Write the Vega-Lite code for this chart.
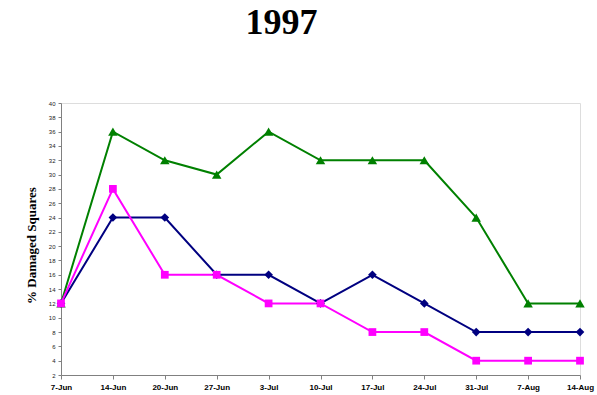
{
  "$schema": "https://vega.github.io/schema/vega-lite/v6.json",
  "autosize": "none",
  "width": 519,
  "height": 272,
  "padding": {"left": 61, "top": 103, "right": 17, "bottom": 20},
  "background": "white",
  "title": {
    "text": "1997",
    "font": "Liberation Serif",
    "fontSize": 36,
    "fontWeight": "bold",
    "color": "black",
    "anchor": "middle",
    "dx": -39,
    "offset": 58
  },
  "data": {
    "values": [
      {"date": "7-Jun", "series": "A", "pct": 12},
      {"date": "14-Jun", "series": "A", "pct": 36},
      {"date": "20-Jun", "series": "A", "pct": 32},
      {"date": "27-Jun", "series": "A", "pct": 30},
      {"date": "3-Jul", "series": "A", "pct": 36},
      {"date": "10-Jul", "series": "A", "pct": 32},
      {"date": "17-Jul", "series": "A", "pct": 32},
      {"date": "24-Jul", "series": "A", "pct": 32},
      {"date": "31-Jul", "series": "A", "pct": 24},
      {"date": "7-Aug", "series": "A", "pct": 12},
      {"date": "14-Aug", "series": "A", "pct": 12},
      {"date": "7-Jun", "series": "B", "pct": 12},
      {"date": "14-Jun", "series": "B", "pct": 24},
      {"date": "20-Jun", "series": "B", "pct": 24},
      {"date": "27-Jun", "series": "B", "pct": 16},
      {"date": "3-Jul", "series": "B", "pct": 16},
      {"date": "10-Jul", "series": "B", "pct": 12},
      {"date": "17-Jul", "series": "B", "pct": 16},
      {"date": "24-Jul", "series": "B", "pct": 12},
      {"date": "31-Jul", "series": "B", "pct": 8},
      {"date": "7-Aug", "series": "B", "pct": 8},
      {"date": "14-Aug", "series": "B", "pct": 8},
      {"date": "7-Jun", "series": "C", "pct": 12},
      {"date": "14-Jun", "series": "C", "pct": 28},
      {"date": "20-Jun", "series": "C", "pct": 16},
      {"date": "27-Jun", "series": "C", "pct": 16},
      {"date": "3-Jul", "series": "C", "pct": 12},
      {"date": "10-Jul", "series": "C", "pct": 12},
      {"date": "17-Jul", "series": "C", "pct": 8},
      {"date": "24-Jul", "series": "C", "pct": 8},
      {"date": "31-Jul", "series": "C", "pct": 4},
      {"date": "7-Aug", "series": "C", "pct": 4},
      {"date": "14-Aug", "series": "C", "pct": 4}
    ]
  },
  "encoding": {
    "x": {
      "field": "date",
      "type": "ordinal",
      "sort": null,
      "scale": {"type": "point", "padding": 0},
      "axis": {
        "title": null,
        "labelAngle": 0,
        "labelFont": "Liberation Sans",
        "labelFontSize": 8,
        "labelFontWeight": "bold",
        "labelColor": "black",
        "labelPadding": 4,
        "domainColor": "#808080",
        "tickColor": "#808080",
        "tickSize": 4,
        "grid": false
      }
    },
    "y": {
      "field": "pct",
      "type": "quantitative",
      "scale": {"domain": [2, 40], "nice": false, "zero": false},
      "axis": {
        "title": "% Damaged Squares",
        "titleFont": "Liberation Serif",
        "titleFontSize": 13,
        "titleFontWeight": "bold",
        "titleColor": "black",
        "titlePadding": 10,
        "titleY": 142,
        "values": [2, 4, 6, 8, 10, 12, 14, 16, 18, 20, 22, 24, 26, 28, 30, 32, 34, 36, 38, 40],
        "labelFont": "Liberation Sans",
        "labelFontSize": 6,
        "labelColor": "#222222",
        "labelPadding": 3,
        "domainColor": "#808080",
        "tickColor": "#808080",
        "tickSize": 3,
        "grid": false
      }
    },
    "color": {
      "field": "series",
      "type": "nominal",
      "scale": {"domain": ["A", "B", "C"], "range": ["#008000", "#000080", "#ff00ff"]},
      "legend": null
    }
  },
  "layer": [
    {"mark": {"type": "line", "strokeWidth": 2}},
    {
      "mark": {"type": "point", "filled": true, "opacity": 1},
      "encoding": {
        "shape": {
          "field": "series",
          "type": "nominal",
          "scale": {"domain": ["A", "B", "C"], "range": ["triangle-up", "diamond", "square"]},
          "legend": null
        },
        "size": {
          "field": "series",
          "type": "nominal",
          "scale": {"domain": ["A", "B", "C"], "range": [90, 60, 80]},
          "legend": null
        }
      }
    }
  ]
}
